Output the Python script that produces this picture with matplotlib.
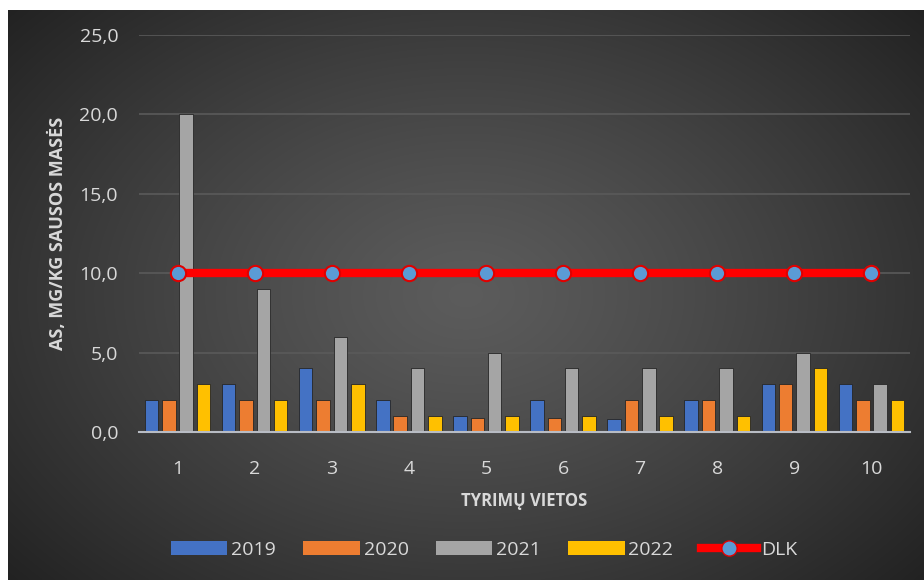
import matplotlib

matplotlib.use("Agg")
import matplotlib.pyplot as plt
import numpy as np
from matplotlib.patches import Patch
from matplotlib.lines import Line2D


vietos = ["1", "2", "3", "4", "5", "6", "7", "8", "9", "10"]
metai = ["2019", "2020", "2021", "2022"]

as_2019 = [2, 3, 4, 2, 1, 2, 0.8, 2, 3, 3]
as_2020 = [2, 2, 2, 1, 0.9, 0.9, 2, 2, 3, 2]
as_2021 = [20, 9, 6, 4, 5, 4, 4, 4, 5, 3]
as_2022 = [3, 2, 3, 1, 1, 1, 1, 1, 4, 2]
dlk = [10, 10, 10, 10, 10, 10, 10, 10, 10, 10]

spalvos = ["#4472C4", "#ED7D31", "#A5A5A5", "#FFC000"]
teksto_spalva = "#D9D9D9"

plt.rcParams["font.family"] = ["Open Sans", "DejaVu Sans"]

fig = plt.figure(figsize=(9.24, 5.8), dpi=100)
fig.patch.set_facecolor("white")

# tamsus fonas su radialiniu gradientu
fono_ax = fig.add_axes([8 / 924, 0, 916 / 924, 570 / 580])
fono_ax.set_axis_off()
yy, xx = np.mgrid[0:1:300j, 0:1:480j]
atstumas = np.sqrt(((xx - 0.5) / 0.75) ** 2 + ((yy - 0.5) / 0.85) ** 2)
sviesumas = 0.36 - 0.26 * np.clip(atstumas, 0, 1) ** 1.2
fono_ax.imshow(np.dstack([sviesumas] * 3), aspect="auto", extent=[0, 1, 0, 1],
               interpolation="bilinear")

ax = fig.add_axes([139 / 924, 1 - 432 / 580, 771 / 924, 397 / 580])
ax.set_facecolor("none")

x = np.arange(len(vietos))
plotis = 0.175
zingsnis = 0.225
serijos = [as_2019, as_2020, as_2021, as_2022]
for i, (reiksmes, spalva) in enumerate(zip(serijos, spalvos)):
    ax.bar(x + (i - 1.5) * zingsnis, reiksmes, width=plotis, color=spalva,
           edgecolor="#262626", linewidth=0.6, zorder=3)

ax.plot(x, dlk, color="#FF0000", linewidth=6, marker="o", markersize=11,
        markerfacecolor="#5B9BD5", markeredgecolor="#E00000",
        markeredgewidth=1.5, zorder=4)

ax.set_xlim(-0.5, len(vietos) - 0.5)
ax.set_ylim(0, 25)
ax.set_yticks([0, 5, 10, 15, 20, 25])
ax.set_yticklabels(["0,0", "5,0", "10,0", "15,0", "20,0", "25,0"])
ax.set_xticks(x)
ax.set_xticklabels(vietos)

ax.grid(axis="y", color="#5A5A5A", linewidth=1.2, zorder=0)
for puse in ["top", "right", "left"]:
    ax.spines[puse].set_visible(False)
ax.spines["bottom"].set_color("#B8BCC4")
ax.spines["bottom"].set_linewidth(1.5)
ax.spines["bottom"].set_zorder(5)

ax.tick_params(axis="both", length=0, colors=teksto_spalva, labelsize=14)
ax.tick_params(axis="y", pad=15)
ax.tick_params(axis="x", pad=20)

ax.set_ylabel("AS, MG/KG SAUSOS MASĖS", color=teksto_spalva, fontsize=13,
              fontweight="bold", labelpad=9)
ax.set_xlabel("TYRIMŲ VIETOS", color=teksto_spalva, fontsize=12,
              fontweight="bold", labelpad=10)

rankenos = [Patch(facecolor=s, label=m) for s, m in zip(spalvos, metai)]
rankenos.append(Line2D([0], [0], color="#FF0000", linewidth=6, marker="o",
                       markersize=11, markerfacecolor="#5B9BD5",
                       markeredgecolor="#E00000", label="DLK"))
fig.legend(handles=rankenos, loc="center", bbox_to_anchor=(484 / 924, 1 - 550 / 580),
           ncol=5, frameon=False, fontsize=14, labelcolor=teksto_spalva,
           handlelength=2.9, handleheight=0.7, handletextpad=0.2,
           columnspacing=1.4)

fig.savefig("out.png", dpi=100)
plt.close(fig)
